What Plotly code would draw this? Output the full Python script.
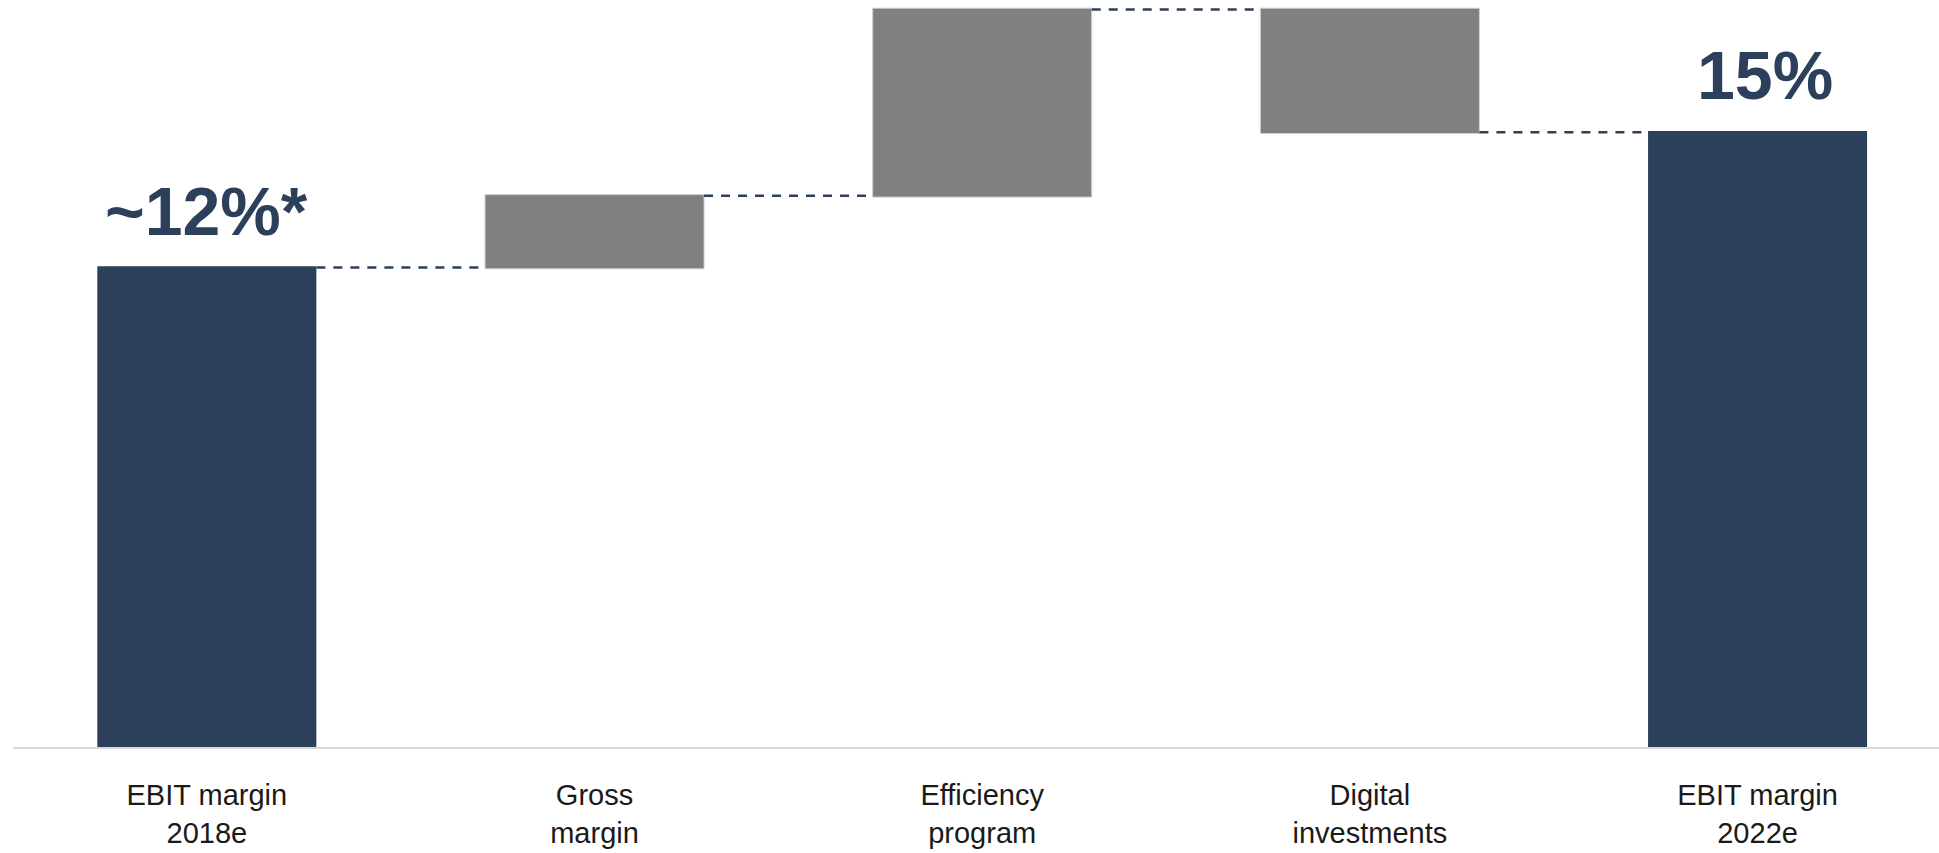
import plotly.graph_objects as go

categories = ["EBIT margin<br>2018e", "Gross<br>margin", "Efficiency<br>program",
              "Digital<br>investments", "EBIT margin<br>2022e"]
values = [11.7, 1.75, 4.55, -3.0, 15.0]
measures = ["absolute", "relative", "relative", "relative", "total"]
value_labels = ["~12%*", "", "", "", "15%"]
label_xshift = [0, 0, 0, 0, 7]

NAVY = "#2c3f5b"
GRAY = "#808080"

fig = go.Figure()
fig.add_trace(go.Waterfall(
    x=categories,
    y=values,
    measure=measures,
    width=0.565,
    totals=dict(marker=dict(color=NAVY, line=dict(color=NAVY, width=0))),
    increasing=dict(marker=dict(color=GRAY, line=dict(color="#d0d0d0", width=1))),
    decreasing=dict(marker=dict(color=GRAY, line=dict(color="#d0d0d0", width=1))),
    connector=dict(mode="between", line=dict(color=NAVY, width=2.5, dash="9px,8px")),
    showlegend=False,
    hoverinfo="skip",
))

# running totals for label placement
running = []
tot = 0
for v, m in zip(values, measures):
    if m == "absolute":
        tot = v
    elif m == "relative":
        tot += v
    running.append(tot)

for i, lab in enumerate(value_labels):
    if lab:
        fig.add_annotation(
            x=categories[i], y=running[i], text=lab, showarrow=False,
            yanchor="bottom", yshift=17, xshift=label_xshift[i],
            font=dict(family="Liberation Sans, Arial, sans-serif", size=68, color=NAVY, weight="bold"),
        )

fig.update_layout(
    width=1939, height=853,
    margin=dict(l=13, r=0, t=0, b=106, autoexpand=False),
    paper_bgcolor="white", plot_bgcolor="white",
    xaxis=dict(
        type="category",
        range=[-0.5, 4.468],
        automargin=False,
        showline=True, linecolor="#d9d9d9", linewidth=2,
        showgrid=False, zeroline=False, ticks="",
        tickfont=dict(family="Liberation Sans, Arial, sans-serif", size=29, color="#1a1a1a"),
        ticklabelstandoff=21,
    ),
    yaxis=dict(range=[0, 18.23], visible=False, showgrid=False, zeroline=False, automargin=False),
)

fig.write_html("out.html")
